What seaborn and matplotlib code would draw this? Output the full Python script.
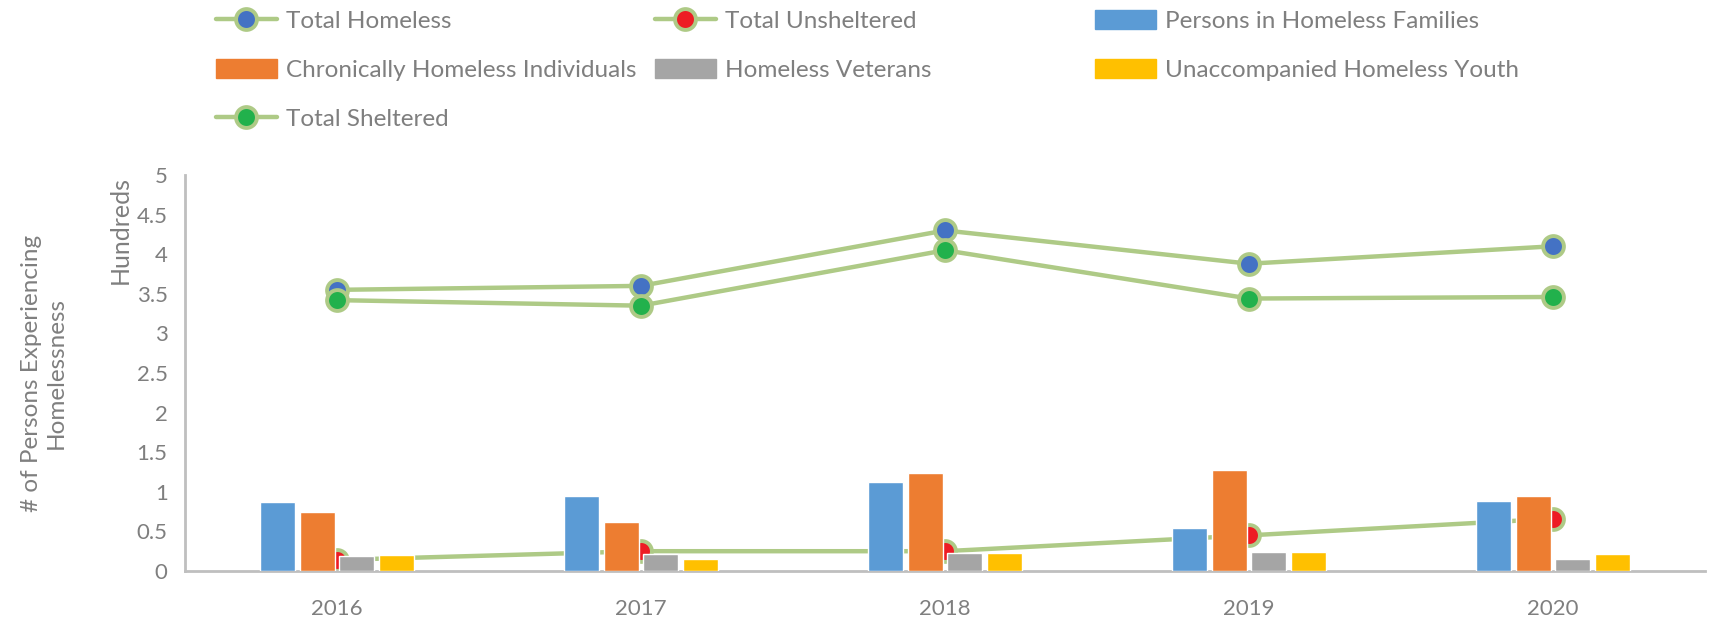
import matplotlib
matplotlib.use("Agg")
import matplotlib.pyplot as plt
import numpy as np
import pandas as pd
import seaborn as sns
from matplotlib.lines import Line2D
from matplotlib.patches import Patch
from matplotlib.ticker import MultipleLocator, FixedLocator

# values in hundreds of persons
YEARS = ["2016", "2017", "2018", "2019", "2020"]
BAR_SERIES = [
    "Persons in Homeless Families",
    "Chronically Homeless Individuals",
    "Homeless Veterans",
    "Unaccompanied Homeless Youth",
]
families = [0.87, 0.95, 1.13, 0.54, 0.88]
chronic = [0.75, 0.62, 1.24, 1.27, 0.95]
veterans = [0.185, 0.22, 0.23, 0.24, 0.15]
youth = [0.20, 0.15, 0.23, 0.24, 0.22]

total_homeless = [3.55, 3.60, 4.30, 3.88, 4.10]
total_unsheltered = [0.14, 0.25, 0.25, 0.45, 0.66]
total_sheltered = [3.42, 3.35, 4.05, 3.44, 3.46]

BAR_COLORS = ["#5B9BD5", "#ED7D31", "#A5A5A5", "#FFC000"]
LINE_COLOR = "#AECA86"
TEXT_COLOR = "#7F7F7F"
AXIS_COLOR = "#BFBFBF"

sns.set_style("white")
plt.rcParams["font.family"] = ["Lato", "DejaVu Sans"]
TICK_FS = 16
LEG_FS = 17.5

bars = pd.DataFrame({
    "year": YEARS * 4,
    "series": np.repeat(BAR_SERIES, len(YEARS)),
    "value": families + chronic + veterans + youth,
})

fig = plt.figure(figsize=(17.12, 6.2), dpi=100)
ax = fig.add_axes([185 / 1712, 1 - 571 / 620, 1520 / 1712, 396 / 620])

line_specs = [
    ("Total Homeless", total_homeless, "#4472C4"),
    ("Total Unsheltered", total_unsheltered, "#ED1C24"),
    ("Total Sheltered", total_sheltered, "#22B14C"),
]
for name, vals, face in line_specs:
    sns.pointplot(x=YEARS, y=vals, order=YEARS, color=LINE_COLOR, errorbar=None,
                  markers="o", markersize=15, markeredgewidth=2.8,
                  markerfacecolor=face, markeredgecolor=LINE_COLOR,
                  linewidth=3.2, ax=ax, zorder=2)

sns.barplot(data=bars, x="year", y="value", hue="series", order=YEARS,
            hue_order=BAR_SERIES, palette=BAR_COLORS, width=0.52, gap=0.12,
            saturation=1, errorbar=None, legend=False, ax=ax, zorder=3)

ax.set_xlim(-0.5, len(YEARS) - 0.5)
ax.set_ylim(0, 5)
ax.yaxis.set_major_locator(MultipleLocator(0.5))
ax.set_yticklabels([f"{t:g}" for t in ax.get_yticks()])
ax.xaxis.set_minor_locator(FixedLocator(np.arange(len(YEARS) + 1) - 0.5))
ax.tick_params(axis="x", which="major", length=0, pad=20, labelsize=TICK_FS,
               labelcolor=TEXT_COLOR)
ax.tick_params(axis="x", which="minor", length=11, width=1.5,
               direction="inout", color=AXIS_COLOR)
ax.tick_params(axis="y", length=11, width=1.5, direction="inout",
               color=AXIS_COLOR, labelsize=TICK_FS, labelcolor=TEXT_COLOR, pad=7)
ax.set_xlabel("")
ax.set_ylabel("")
for side in ["top", "right"]:
    ax.spines[side].set_visible(False)
for side in ["left", "bottom"]:
    ax.spines[side].set_color(AXIS_COLOR)
    ax.spines[side].set_linewidth(2)

fig.text(120 / 1712, 1 - 176 / 620, "Hundreds", rotation=90, ha="center",
         va="top", fontsize=18, color=TEXT_COLOR)
fig.text(44 / 1712, 1 - 373 / 620, "# of Persons Experiencing\nHomelessness",
         rotation=90, ha="center", va="center", multialignment="center",
         fontsize=LEG_FS, color=TEXT_COLOR, linespacing=1.22)


def line_handle(face):
    return Line2D([], [], color=LINE_COLOR, lw=3.2, marker="o", markersize=15,
                  markerfacecolor=face, markeredgecolor=LINE_COLOR,
                  markeredgewidth=2.8)


columns = [
    (216, [line_handle("#4472C4"), Patch(color=BAR_COLORS[1]), line_handle("#22B14C")],
     ["Total Homeless", BAR_SERIES[1], "Total Sheltered"]),
    (655, [line_handle("#ED1C24"), Patch(color=BAR_COLORS[2])],
     ["Total Unsheltered", BAR_SERIES[2]]),
    (1095, [Patch(color=BAR_COLORS[0]), Patch(color=BAR_COLORS[3])],
     [BAR_SERIES[0], BAR_SERIES[3]]),
]
for x0, handles, labels in columns:
    fig.legend(handles, labels, loc="upper left",
               bbox_to_anchor=(x0 / 1712, 1 - 10 / 620), frameon=False,
               fontsize=LEG_FS, labelcolor=TEXT_COLOR, borderpad=0,
               borderaxespad=0, handlelength=2.5, handleheight=0.85,
               handletextpad=0.4, labelspacing=1.1)

fig.savefig("out.png", dpi=100)
